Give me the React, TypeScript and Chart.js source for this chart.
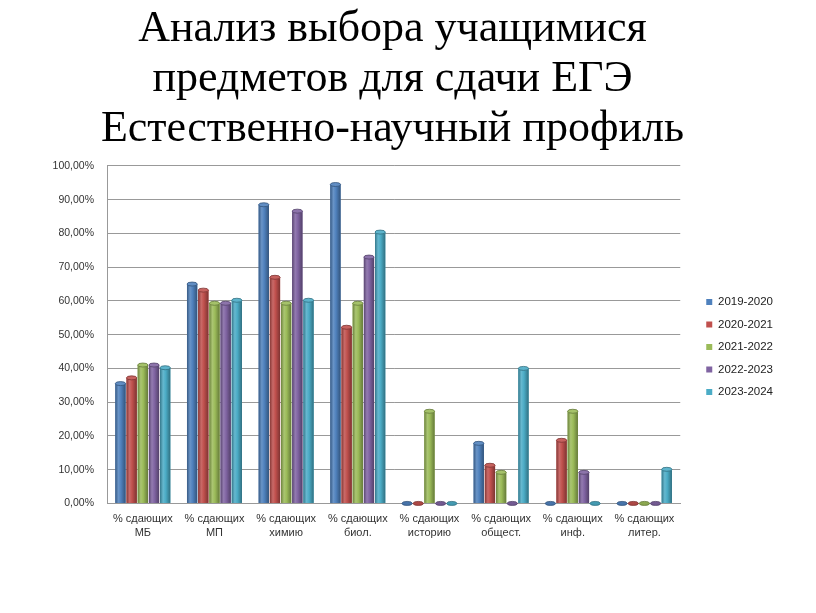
import React, { useEffect, useRef } from "react";
import { Chart, registerables } from "chart.js";

Chart.register(...registerables);

const titleLines = ["Анализ выбора учащимися", "предметов для сдачи ЕГЭ", "Естественно-научный профиль"];

const categories: string[][] = [
  ["% сдающих", "МБ"],
  ["% сдающих", "МП"],
  ["% сдающих", "химию"],
  ["% сдающих", "биол."],
  ["% сдающих", "историю"],
  ["% сдающих", "общест."],
  ["% сдающих", "инф."],
  ["% сдающих", "литер."],
];

const seriesNames = ["2019-2020", "2020-2021", "2021-2022", "2022-2023", "2023-2024"];
const seriesColors = ["#4F81BD", "#C0504D", "#9BBB59", "#8064A2", "#4BACC6"];

const v2019 = [35.5, 65, 88.5, 94.5, 0, 17.8, 0, 0];
const v2020 = [37.2, 63.2, 67, 52.2, 0, 11.3, 18.7, 0];
const v2021 = [41, 59.3, 59.3, 59.3, 27.3, 9.2, 27.3, 0];
const v2022 = [41, 59.3, 86.6, 73, 0, 0, 9.2, 0];
const v2023 = [40.2, 60.2, 60.2, 80.4, 0, 40, 0, 10.1];

const seriesValues = [v2019, v2020, v2021, v2022, v2023];

function shade(hex: string, f: number): string {
  const n = parseInt(hex.slice(1), 16);
  let r = (n >> 16) & 255, g = (n >> 8) & 255, b = n & 255;
  if (f < 0) {
    r = Math.round(r * (1 + f)); g = Math.round(g * (1 + f)); b = Math.round(b * (1 + f));
  } else {
    r = Math.round(r + (255 - r) * f); g = Math.round(g + (255 - g) * f); b = Math.round(b + (255 - b) * f);
  }
  return `rgb(${r},${g},${b})`;
}

const cylinderPlugin = {
  id: "cylinder",
  afterDatasetsDraw(chart: any) {
    const ctx = chart.ctx;
    chart.data.datasets.forEach((ds: any, di: number) => {
      const meta = chart.getDatasetMeta(di);
      const base = seriesColors[di];
      meta.data.forEach((bar: any) => {
        const { x, y, base: b, width } = bar.getProps(["x", "y", "base", "width"], true);
        const left = x - width / 2;
        const h = b - y;
        ctx.save();
        const g = ctx.createLinearGradient(left, 0, left + width, 0);
        g.addColorStop(0, shade(base, -0.3));
        g.addColorStop(0.3, shade(base, 0.15));
        g.addColorStop(0.55, base);
        g.addColorStop(1, shade(base, -0.35));
        ctx.fillStyle = g;
        if (h > 0.5) ctx.fillRect(left, y, width, h);
        ctx.beginPath();
        ctx.ellipse(x, y, width / 2, 2, 0, 0, Math.PI * 2);
        ctx.fillStyle = shade(base, h > 0.5 ? 0.1 : -0.1);
        ctx.fill();
        ctx.strokeStyle = shade(base, -0.35);
        ctx.lineWidth = 0.8;
        ctx.stroke();
        ctx.restore();
      });
    });
  },
};

export default function App() {
  const ref = useRef<HTMLCanvasElement>(null);
  useEffect(() => {
    if (!ref.current) return;
    const chart = new Chart(ref.current, {
      type: "bar",
      data: {
        labels: categories,
        datasets: seriesValues.map((vals, i) => ({
          label: seriesNames[i],
          data: vals,
          backgroundColor: seriesColors[i],
          borderWidth: 0,
          categoryPercentage: 0.78,
          barPercentage: 0.92,
          yAxisID: "y",
        })),
      },
      options: {
        animation: false,
        responsive: false,
        maintainAspectRatio: false,
        layout: { padding: { left: 2, right: 33, top: 0, bottom: 73 } },
        plugins: {
          title: {
            display: true,
            text: titleLines,
            color: "#000",
            font: { family: "'Liberation Serif', 'Times New Roman', serif", size: 44, weight: "normal", lineHeight: 1.136 },
            padding: { top: 4, bottom: 12 },
          },
          legend: {
            position: "right",
            fullSize: false,
            title: { display: true, text: " ", padding: { top: 5, bottom: 5 }, font: { size: 12 } },
            labels: {
              boxWidth: 6,
              boxHeight: 6,
              padding: 11,
              color: "#222",
              font: { family: "'Liberation Sans', Arial, sans-serif", size: 11.5 },
            },
          },
          tooltip: { enabled: false },
        },
        scales: {
          x: {
            grid: { display: false },
            border: { display: true, color: "#999" },
            ticks: {
              color: "#333",
              font: { family: "'Liberation Sans', Arial, sans-serif", size: 11, lineHeight: 1.3 },
              maxRotation: 0,
              padding: 0,
            },
          },
          y: {
            min: 0,
            max: 100,
            afterFit: (s: any) => { s.width = 105; },
            ticks: {
              stepSize: 10,
              color: "#333",
              font: { family: "'Liberation Sans', Arial, sans-serif", size: 10.5 },
              padding: 13,
              callback: (v: any) => Number(v).toFixed(2).replace(".", ",") + "%",
            },
            grid: { color: "#999", drawTicks: false },
            border: { display: true, color: "#999" },
          },
          gap: {
            position: "right",
            display: true,
            afterFit: (s: any) => { s.width = 15; },
            ticks: { display: false },
            grid: { display: false, drawTicks: false },
            border: { display: false },
          },
        },
      },
      plugins: [cylinderPlugin],
    });
    return () => chart.destroy();
  }, []);
  return (
    <div style={{ position: "absolute", left: 0, top: 0, width: 816, height: 613, background: "#fff" }}>
      <canvas ref={ref} width={816} height={613} style={{ display: "block" }} />
    </div>
  );
}
